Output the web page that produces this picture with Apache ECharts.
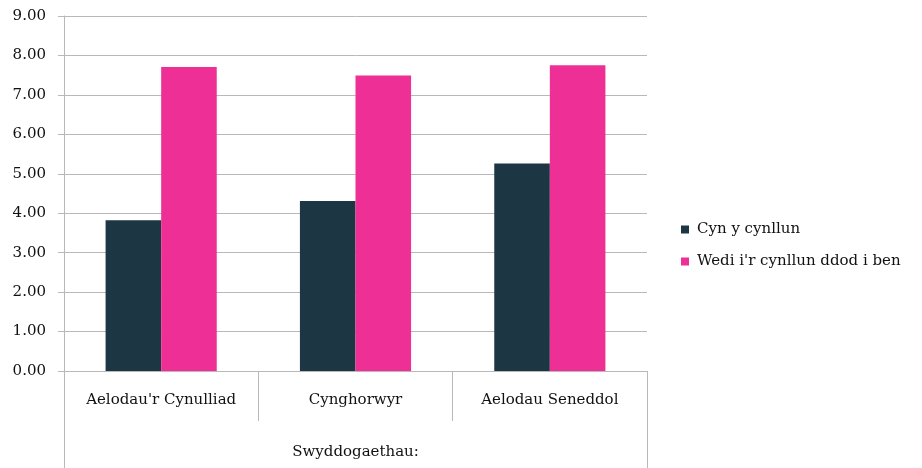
<!DOCTYPE html>
<html>
<head>
<meta charset="utf-8">
<script src="https://cdn.jsdelivr.net/npm/echarts@6/dist/echarts.min.js"></script>
<style>html,body{margin:0;padding:0;background:#fff}#c{width:922px;height:468px}</style>
</head>
<body>
<div id="c"></div>
<script>
var categories = ["Aelodau'r Cynulliad", "Cynghorwyr", "Aelodau Seneddol"];
var groupLabel = ["Swyddogaethau:"];
var seriesNames = ["Cyn y cynllun", "Wedi i'r cynllun ddod i ben"];
var before = [3.82, 4.31, 5.26];
var after = [7.71, 7.49, 7.75];

var FONT = 'DejaVu Serif';
var GRAY = '#b8b8b8';
var TXT = '#111111';

var chart = echarts.init(document.getElementById('c'));
chart.setOption({
  animation: false,
  backgroundColor: '#ffffff',
  grid: { left: 64, right: 275, top: 16, bottom: 97, containLabel: false },
  legend: {
    orient: 'vertical',
    left: 676,
    top: 217,
    itemWidth: 8,
    itemHeight: 8,
    itemGap: 17,
    icon: 'rect',
    data: seriesNames,
    textStyle: { fontFamily: FONT, fontSize: 15, color: TXT, lineHeight: 15, padding: [0, 0, 0, 3] }
  },
  xAxis: [
    {
      type: 'category',
      data: categories,
      position: 'bottom',
      axisLine: { show: true, lineStyle: { color: GRAY, width: 1 } },
      axisTick: { show: true, length: 50, interval: 0, lineStyle: { color: GRAY, width: 1 } },
      axisLabel: { interval: 0, margin: 22, fontFamily: FONT, fontSize: 15, color: TXT },
      splitLine: { show: false }
    },
    {
      type: 'category',
      data: groupLabel,
      position: 'bottom',
      axisLine: { show: false },
      axisTick: { show: true, length: 100, interval: 0, lineStyle: { color: GRAY, width: 1 } },
      axisLabel: { interval: 0, margin: 74, fontFamily: FONT, fontSize: 15, color: TXT },
      splitLine: { show: false }
    }
  ],
  yAxis: {
    type: 'value',
    min: 0,
    max: 9,
    interval: 1,
    axisLine: { show: true, lineStyle: { color: GRAY, width: 1 } },
    axisTick: { show: true, length: 6, lineStyle: { color: GRAY, width: 1 } },
    axisLabel: { margin: 18, fontFamily: FONT, fontSize: 15, color: TXT, formatter: function (v) { return v.toFixed(2); } },
    splitLine: { show: true, lineStyle: { color: GRAY, width: 1 } }
  },
  series: [
    {
      name: seriesNames[0],
      type: 'bar',
      data: before,
      xAxisIndex: 0,
      barGap: '0%',
      barCategoryGap: '42.8%',
      itemStyle: { color: '#1d3643' }
    },
    {
      name: seriesNames[1],
      type: 'bar',
      data: after,
      xAxisIndex: 0,
      barGap: '0%',
      barCategoryGap: '42.8%',
      itemStyle: { color: '#ee3096' }
    }
  ]
});
</script>
</body>
</html>
